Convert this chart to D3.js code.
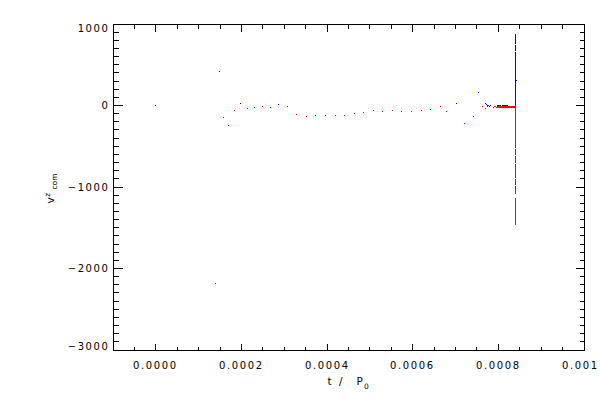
<!DOCTYPE html>
<html><head><meta charset="utf-8">
<script src="https://cdn.jsdelivr.net/npm/d3@7"></script>
<style>
html,body{margin:0;padding:0;background:#fff;}
svg{display:block;}
text{font-family:"DejaVu Sans",sans-serif;fill:#000;}
</style></head><body>
<svg id="c" width="600" height="400"></svg>
<script>
// ---- data ----
// isolated samples: time (t / P0) and v^z_com
const pointTimes = [0, 0.000140, 0.000149, 0.0001587, 0.0001704, 0.0001844, 0.0001984, 0.0002147, 0.000231,
  0.0002497, 0.0002684, 0.000287, 0.000308, 0.000329, 0.0003524, 0.0003734, 0.0003967, 0.000420, 0.000441,
  0.0004644, 0.0004854, 0.0005088, 0.0005298, 0.000553, 0.000574, 0.0005974, 0.0006208, 0.0006418, 0.000665,
  0.000679, 0.0007025, 0.0007212, 0.000742, 0.000754, 0.0007631, 0.0007694, 0.0007701, 0.0007717, 0.0007741,
  0.0007757, 0.000778, 0.0007804, 0.0007827, 0.0007888, 0.0007911, 0.0007935, 0.0007958, 0.0008425];
const pointVz = [0, -2190, 416, -147, -245, -61, 24, -37, -24,
  -12, -24, 16, -12, -110, -135, -122, -122, -122, -122,
  -98, -86, -61, -73, -61, -73, -73, -61, -49, -8,
  -73, 24, -220, -135, 159, -8, 28, -33, 16, 4,
  -8, -2, -8, 2, -20, -10, -10, -20, 304];
// dense cluster just below zero before the final burst
const clusterTimes = [0.000798, 0.000800, 0.000803, 0.000805, 0.000807, 0.000810, 0.000812, 0.000814, 0.000817,
  0.000819, 0.000821, 0.000824, 0.000826, 0.000828, 0.000831, 0.000833, 0.000835, 0.000838];
const clusterVzA = [-10, -10, -10, -10, -10, -10, -10, -10, -10, -10, -10, -10, -10, -10, -10, -10, -10, -10];
const clusterVzB = [-20, -20, -20, -20, -20, -20, -20, -20, -20, -20, -20, -20, -20, -20, -20, -20, -20, -20];
const clusterVzPos = [2, 2, 2, 2, null, 2, 2, 2, 2, 2, 2, null, null, null, null, null, null, null];
// final burst at one time: runs of densely packed samples [high, low]
const burstTime = 0.0008406;
const burstRuns = [[869, 755], [742, 669], [656, 423], [411, 98], [80, 55], [43, 6],
  [-6, -86], [-104, -313], [-331, -515], [-534, -601], [-620, -699], [-718, -761],
  [-779, -883], [-902, -969], [-988, -1031], [-1049, -1074], [-1135, -1458]];
// axes
const xDomain = [-0.0001, 0.001];
const yDomain = [-3000, 1000];
const xMajor = [0, 0.0002, 0.0004, 0.0006, 0.0008, 0.001];
const xLabels = ["0.0000", "0.0002", "0.0004", "0.0006", "0.0008", "0.001"];
const yMajor = [-3000, -2000, -1000, 0, 1000];
const yLabels = ["\u22123000", "\u22122000", "\u22121000", "0", "1000"];
const xMinorStep = 0.00005, yMinorStep = 100;

// ---- drawing ----
const svg = d3.select("#c");
const L = 113, R = 584, T = 24, B = 350;
const x = d3.scaleLinear().domain(xDomain).range([L, R]);
const y = d3.scaleLinear().domain(yDomain).range([B, T]);
const RED = "#ff0000", BLUE = "#0000ff";
const col = v => v >= 0 ? BLUE : RED;
const px = t => Math.floor(x(t) + 1e-6);
const py = v => Math.floor(y(v) + 1e-6);

const g = svg.append("g").attr("shape-rendering", "crispEdges");

// frame
g.append("rect").attr("x", L + 0.5).attr("y", T + 0.5).attr("width", R - L).attr("height", B - T)
  .attr("fill", "none").attr("stroke", "#000").attr("stroke-width", 1);

function xt(v, len) {
  const X = px(v) + 0.5;
  g.append("line").attr("x1", X).attr("x2", X).attr("y1", B + 0.5).attr("y2", B + 0.5 - len).attr("stroke", "#000");
  g.append("line").attr("x1", X).attr("x2", X).attr("y1", T + 0.5).attr("y2", T + 0.5 + len).attr("stroke", "#000");
}
function yt(v, len) {
  const Y = py(v) + 0.5;
  g.append("line").attr("y1", Y).attr("y2", Y).attr("x1", L + 0.5).attr("x2", L + 0.5 + len).attr("stroke", "#000");
  g.append("line").attr("y1", Y).attr("y2", Y).attr("x1", R + 0.5).attr("x2", R + 0.5 - len).attr("stroke", "#000");
}
d3.range(xDomain[0], xDomain[1] + 1e-12, xMinorStep).forEach(v => xt(v, 4));
xMajor.forEach(v => xt(v, 7));
d3.range(yDomain[0], yDomain[1] + 1e-9, yMinorStep).forEach(v => yt(v, 5));
yMajor.forEach(v => yt(v, 9));

// tick labels
const lab = svg.append("g").attr("font-size", 10).attr("letter-spacing", "1.6px");
const halfW = 22.5;
xMajor.forEach((v, i) => {
  lab.append("text").attr("x", px(v) - halfW + 0.5).attr("y", 369).text(xLabels[i]);
});
yMajor.forEach((v, i) => {
  let base = py(v) + 4;
  base = Math.max(T + 8, Math.min(B, base));
  lab.append("text").attr("x", 109.5).attr("y", base).attr("text-anchor", "end").text(yLabels[i]);
});

// axis titles
const xt1 = svg.append("g").attr("font-size", 10.5);
xt1.append("text").attr("x", 327.5).attr("y", 385).text("t");
xt1.append("text").attr("x", 339).attr("y", 385).text("/");
xt1.append("text").attr("x", 356.5).attr("y", 385).text("P");
xt1.append("text").attr("x", 364).attr("y", 388.5).attr("font-size", 7.5).text("0");

const yt1 = svg.append("g").attr("transform", "translate(54,203.5) rotate(-90)");
yt1.append("text").attr("x", 0).attr("y", 0).attr("font-size", 10.5).text("v");
yt1.append("text").attr("x", 6.8).attr("y", -4).attr("font-size", 7.5).text("z");
yt1.append("text").attr("x", 14).attr("y", 2.8).attr("font-size", 7.5).text("com");

// data marks
const pts = svg.append("g").attr("shape-rendering", "crispEdges");
pointTimes.forEach((t, i) => {
  const v = pointVz[i];
  pts.append("rect").attr("x", px(t)).attr("y", py(v)).attr("width", 1).attr("height", 1).attr("fill", col(v));
});
clusterTimes.forEach((t, i) => {
  [clusterVzA[i], clusterVzB[i], clusterVzPos[i]].forEach(v => {
    if (v === null) return;
    pts.append("rect").attr("x", px(t)).attr("y", py(v)).attr("width", 1).attr("height", 1).attr("fill", col(v));
  });
});
burstRuns.forEach(([hi, lo]) => {
  const y0 = py(hi), y1 = py(lo);
  pts.append("rect").attr("x", px(burstTime)).attr("y", y0).attr("width", 1).attr("height", Math.max(1, y1 - y0 + 1))
    .attr("fill", col(hi));
});
</script>
</body></html>
